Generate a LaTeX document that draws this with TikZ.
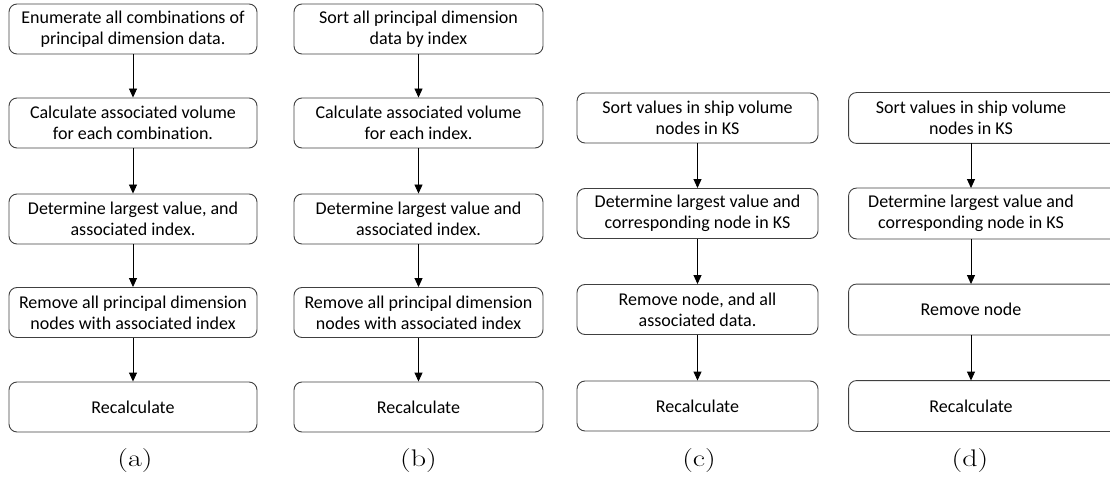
\documentclass[tikz,border=0pt]{standalone}
\usepackage{fontspec}
\newfontfamily\boxfont[Ligatures=NoCommon]{Carlito}
\usetikzlibrary{arrows.meta}
\definecolor{framegray}{HTML}{404040}
\tikzset{
  stepbox/.style={draw=framegray, line width=0.9pt, rounded corners=8pt,
    inner sep=0pt, minimum height=50pt, align=center,
    font=\boxfont\fontsize{18}{21}\selectfont},
  steptext/.style={stepbox, draw=none},
  frame/.style={draw=framegray, line width=0.9pt, rounded corners=8pt},
  flow/.style={draw=black, line width=0.9pt, -{Triangle[width=8pt,length=9pt]}},
  subcap/.style={font=\fontsize{24}{28}\selectfont, inner sep=0pt}
}
\newcommand{\captext}[1]{\scalebox{1.25}[1]{#1}}
\begin{document}
\begin{tikzpicture}[x=1pt, y=-1pt]
\useasboundingbox (0,0) rectangle (1110,481);
\clip (0,0) rectangle (1110,481);

% (a)
\begin{scope}[every node/.append style={minimum width=248pt}]
\node[stepbox] (a1) at (133,29)    {Enumerate all combinations of\\principal dimension data.};
\node[stepbox] (a2) at (133,123)   {Calculate associated volume\\for each combination.};
\node[stepbox] (a3) at (133,219)   {Determine largest value, and\\associated index.};
\node[stepbox] (a4) at (133,312.5) {Remove all principal dimension\\nodes with associated index};
\node[stepbox] (a5) at (133,407)   {Recalculate};
\end{scope}

% (b)
\begin{scope}[every node/.append style={minimum width=249pt}]
\node[stepbox] (b1) at (418.5,29)    {Sort all principal dimension\\data by index};
\node[stepbox] (b2) at (418.5,123)   {Calculate associated volume\\for each index.};
\node[stepbox] (b3) at (418.5,219)   {Determine largest value and\\associated index.};
\node[stepbox] (b4) at (418.5,312.5) {Remove all principal dimension\\nodes with associated index};
\node[stepbox] (b5) at (418.5,407)   {Recalculate};
\end{scope}

% (c)
\begin{scope}[every node/.append style={minimum width=241pt}]
\node[stepbox] (c1) at (697.5,118)   {Sort values in ship volume\\nodes in KS};
\node[stepbox] (c2) at (697.5,213.5) {Determine largest value and\\corresponding node in KS};
\node[stepbox] (c3) at (697.5,309.5) {Remove node, and all\\associated data.};
\node[stepbox] (c4) at (697.5,406)   {Recalculate};
\end{scope}

% (d): frames run past the right edge
\begin{scope}[every node/.append style={minimum width=244pt}]
\node[steptext] (d1) at (971,118)   {Sort values in ship volume\\nodes in KS};
\node[steptext] (d2) at (971,213.5) {Determine largest value and\\corresponding node in KS};
\node[steptext] (d3) at (971,309.5) {Remove node};
\node[steptext] (d4) at (971,406)   {Recalculate};
\end{scope}
\foreach \n in {d1,d2,d3,d4}
  \draw[frame] (\n.north west) rectangle ([xshift=40pt]\n.south east);

% connectors
\foreach \p/\q in {a1/a2,a2/a3,a3/a4,a4/a5,
                   b1/b2,b2/b3,b3/b4,b4/b5,
                   c1/c2,c2/c3,c3/c4,
                   d1/d2,d2/d3,d3/d4}
  \draw[flow] (\p) -- (\q);

% sub-captions
\node[subcap] (capa) at (135,461) {\captext{(a)}};
\node[subcap] (capb) at (418.5,461) {\captext{(b)}};
\node[subcap] (capc) at (699,461) {\captext{(c)}};
\node[subcap] (capd) at (970,461) {\captext{(d)}};
\end{tikzpicture}
\end{document}
